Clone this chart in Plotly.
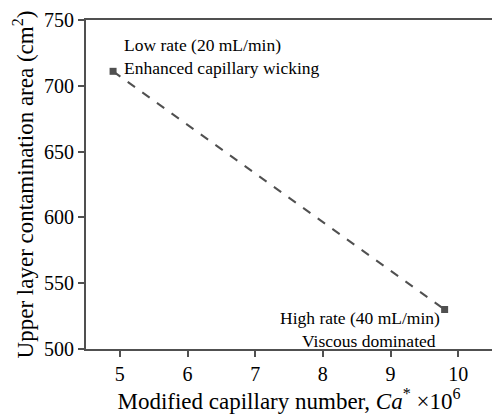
import plotly.graph_objects as go

ca_star = [4.9, 9.8]
area = [711, 530]
x_ticks = [5, 6, 7, 8, 9, 10]
y_ticks = [500, 550, 600, 650, 700, 750]

font = "Times New Roman, Liberation Serif, DejaVu Serif, serif"
dark = "#505050"

fig = go.Figure()
fig.add_trace(go.Scatter(
    x=ca_star, y=area, mode="lines+markers",
    line=dict(color=dark, width=2, dash="dash"),
    marker=dict(symbol="square", size=7, color=dark),
    showlegend=False,
))

fig.add_annotation(x=ca_star[0], y=area[0], xref="x", yref="y",
                   text="Low rate (20 mL/min)<br>Enhanced capillary wicking",
                   showarrow=False, xanchor="left", yanchor="bottom", align="left",
                   xshift=9, yshift=-9, font=dict(family=font, size=17.5, color="black"))
fig.add_annotation(x=ca_star[1], y=area[1], xref="x", yref="y",
                   text="High rate (40 mL/min)<br>Viscous dominated ",
                   showarrow=False, xanchor="right", yanchor="top", align="right",
                   xshift=-3, yshift=4, font=dict(family=font, size=17.5, color="black"))

fig.update_layout(
    width=492, height=418,
    margin=dict(l=86, r=0, t=20, b=69),
    plot_bgcolor="white", paper_bgcolor="white",
    font=dict(family=font, color="black"),
    xaxis=dict(range=[4.5, 10.5], tickvals=x_ticks, ticks="outside", ticklen=6,
               tickwidth=2, tickcolor=dark, showline=True, linecolor=dark, linewidth=2,
               mirror=True, showgrid=False, zeroline=False,
               tickfont=dict(family=font, size=20),
               title=dict(text="Modified capillary number, <i>Ca</i><sup>*</sup> ×10<sup>6</sup>",
                          font=dict(family=font, size=23), standoff=7)),
    yaxis=dict(range=[500, 750], tickvals=y_ticks, ticks="outside", ticklen=6,
               tickwidth=2, tickcolor=dark, showline=True, linecolor=dark, linewidth=2,
               mirror=False, showgrid=False, zeroline=False,
               tickfont=dict(family=font, size=20),
               title=dict(text="Upper layer contamination area (cm<sup>2</sup>)",
                          font=dict(family=font, size=23), standoff=4)),
)

fig.write_html("out.html")
